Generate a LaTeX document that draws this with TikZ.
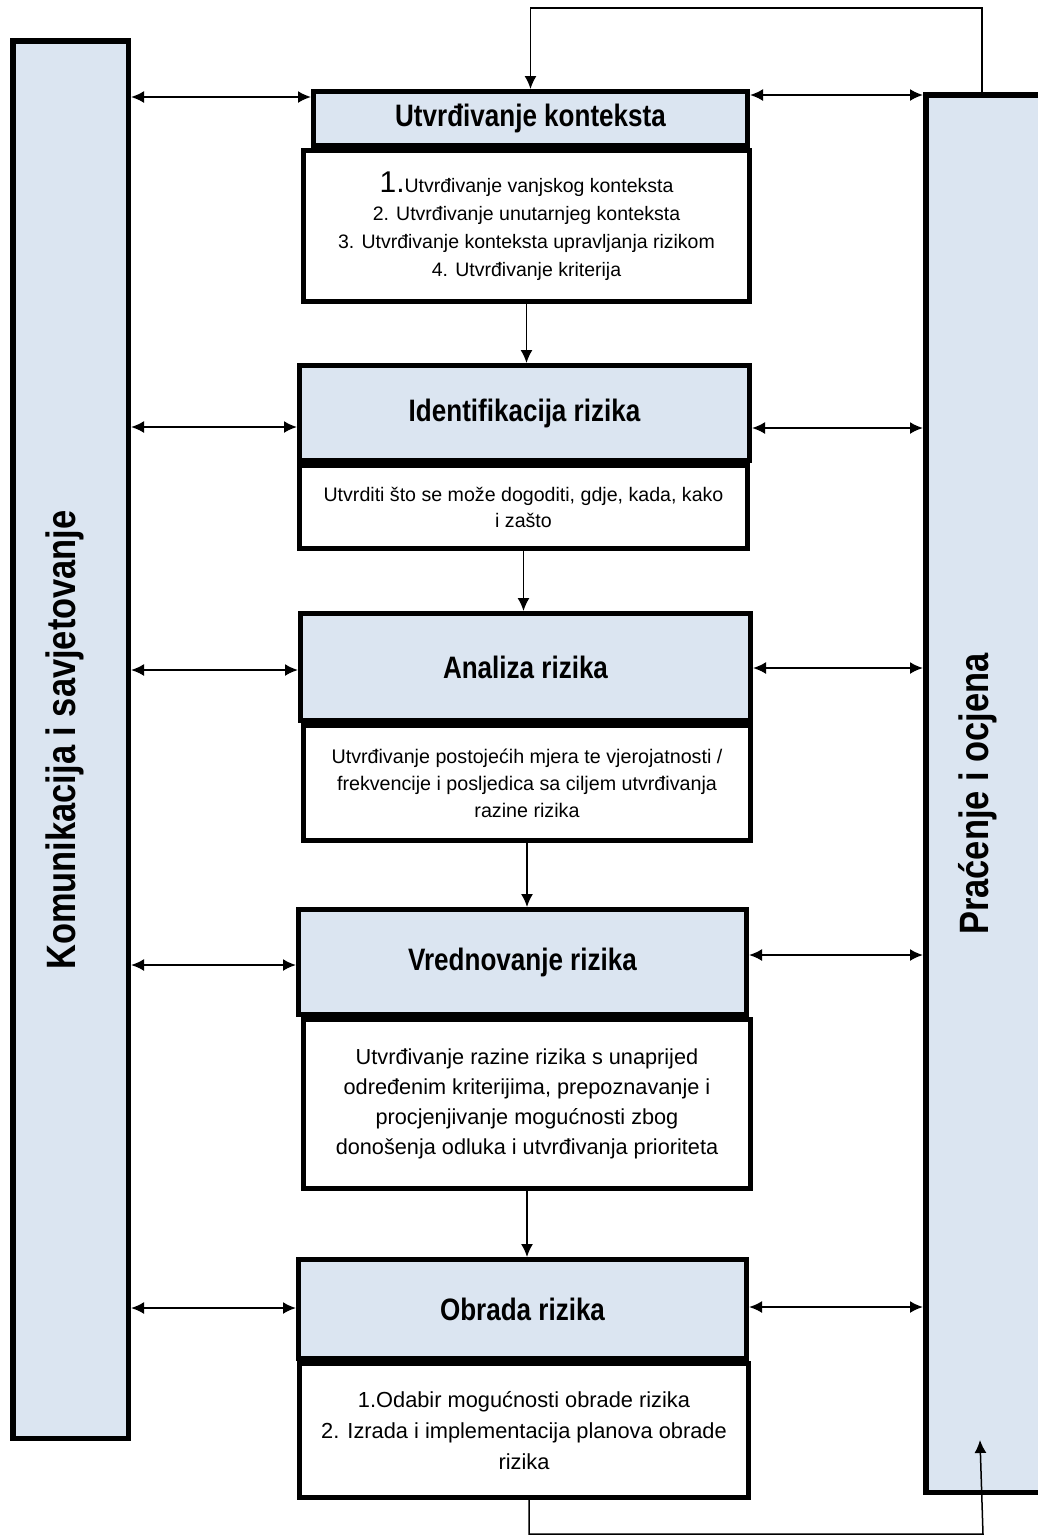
\documentclass[tikz,border=0pt]{standalone}
\usepackage{fontspec}
\setmainfont{Liberation Sans}
\newfontfamily\narrowsans[FakeStretch=0.84]{Liberation Sans}
\usepackage{xcolor}
\definecolor{boxblue}{HTML}{DBE5F1}
\usetikzlibrary{arrows.meta}

\begin{document}
\begin{tikzpicture}[x=1pt,y=-1pt,>={Latex[length=13pt,width=12pt]}]
  \tikzstyle{bar}=[draw,fill=boxblue,line width=5.5pt,inner sep=0pt]
  \tikzstyle{head}=[draw,fill=boxblue,line width=5pt,inner sep=0pt,font=\narrowsans\bfseries\fontsize{31}{37}\selectfont]
  \tikzstyle{body}=[draw,fill=white,line width=5pt,inner sep=0pt,align=center]
  \tikzstyle{side}=[rotate=90,anchor=base,font=\narrowsans\bfseries\fontsize{41}{49}\selectfont]
  \tikzstyle{e}=[line width=2pt]
  \tikzstyle{down}=[->,line width=1.5pt]

  \useasboundingbox (0,0) rectangle (1038,1535);
  \clip (0,0) rectangle (1038,1535);

  % side bars
  \node[bar,minimum width=115.5,minimum height=1397.5] (kom)  at (70.5,739.5) {};
  \node[bar,minimum width=141.5,minimum height=1397.5] (prac) at (996.5,793.5) {};
  \node[side] (komtxt)  at (75,740) {Komunikacija i savjetovanje};
  \node[side] (practxt) at (988,794) {Praćenje i ocjena};

  % process steps
  \node[head,minimum width=434,minimum height=54]  (h1) at (530.5,118.5) {Utvrđivanje konteksta};
  \node[body,minimum width=446,minimum height=151,font=\fontsize{19.5}{28}\selectfont] (b1) at (526.5,226)
    {{\fontsize{30}{28}\selectfont 1.}Utvrđivanje vanjskog konteksta\\
     2. Utvrđivanje unutarnjeg konteksta\\
     3. Utvrđivanje konteksta upravljanja rizikom\\
     4. Utvrđivanje kriterija};

  \node[head,minimum width=450,minimum height=95]  (h2) at (524.5,413) {Identifikacija rizika};
  \node[body,minimum width=448,minimum height=83,font=\fontsize{19.6}{26}\selectfont] (b2) at (523.5,507)
    {Utvrditi što se može dogoditi, gdje, kada, kako\\ i zašto};

  \node[head,minimum width=450,minimum height=107] (h3) at (525.5,667) {Analiza rizika};
  \node[body,minimum width=447,minimum height=115,font=\fontsize{19.7}{27}\selectfont] (b3) at (527,783)
    {Utvrđivanje postojećih mjera te vjerojatnosti /\\
     frekvencije i posljedica sa ciljem utvrđivanja\\
     razine rizika};

  \node[head,minimum width=448,minimum height=105] (h4) at (522.5,962) {Vrednovanje rizika};
  \node[body,minimum width=447,minimum height=169,font=\fontsize{21.7}{30}\selectfont] (b4) at (527,1104)
    {Utvrđivanje razine rizika s unaprijed\\
     određenim kriterijima, prepoznavanje i\\
     procjenjivanje mogućnosti zbog\\
     donošenja odluka i utvrđivanja prioriteta};

  \node[head,minimum width=448,minimum height=99]  (h5) at (522.5,1309) {Obrada rizika};
  \node[body,minimum width=449,minimum height=134,font=\fontsize{21.8}{31}\selectfont] (b5) at (524,1430.5)
    {1.Odabir mogućnosti obrade rizika\\
     2. Izrada i implementacija planova obrade\\
     rizika};

  % flow between steps
  \foreach \a/\b in {b1/h2,b2/h3,b3/h4,b4/h5}
    \draw[down] (\a.south) -- (\a.south |- \b.north);

  % links to the side bars
  \foreach \h/\ly/\ry in {h1/97/95,h2/427/428,h3/670/668,h4/965/955,h5/1308/1307}{
    \draw[e,<->] (kom.east |- 0,\ly) -- (\h.west |- 0,\ly);
    \draw[e,<->] (\h.east |- 0,\ry) -- (prac.west |- 0,\ry);
  }

  % feedback loop
  \coordinate (tr) at (982,8);
  \coordinate (tl) at (530.5,8);
  \coordinate (bl) at (529,1534);
  \coordinate (br) at (983,1534);
  \coordinate (tip) at (980,1440);
  \draw[down] (prac.north -| tr) -- (tr) -- (tl) -- (h1.north);
  \draw[down] (b5.south -| bl) -- (bl) -- (br) -- (tip);
\end{tikzpicture}
\end{document}
